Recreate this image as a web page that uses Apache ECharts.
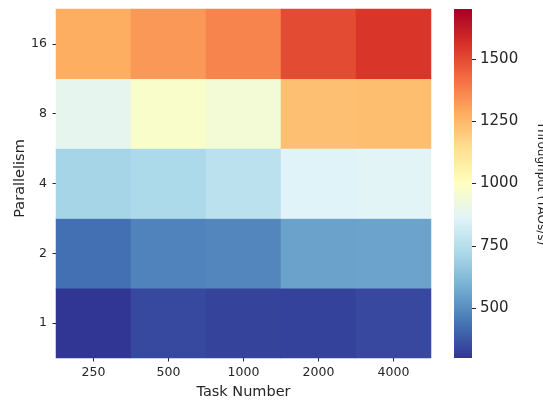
<!DOCTYPE html>
<html>
<head>
<meta charset="utf-8">
<script src="https://cdn.jsdelivr.net/npm/echarts@6/dist/echarts.min.js"></script>
<style>
html,body{margin:0;padding:0;background:#fff;}
#chart{width:543px;height:402px;}
</style>
</head>
<body>
<div id="chart"></div>
<script>
// ---- data ----
const taskNumbers = ['250', '500', '1000', '2000', '4000'];
const parallelism = ['1', '2', '4', '8', '16'];
// throughput (TAOs/s), one array per parallelism level, ordered by task number
const par1  = [300, 342, 328, 327, 341];
const par2  = [429, 472, 482, 552, 555];
const par4  = [707, 726, 765, 860, 867];
const par8  = [887, 972, 944, 1232, 1234];
const par16 = [1280, 1328, 1371, 1498, 1549];
const colorbarTicks = [500, 750, 1000, 1250, 1500];
const valueMin = 300;
const valueMax = 1700;
// RdYlBu_r colour map
const cmap = ['#313695','#4575b4','#74add1','#abd9e9','#e0f3f8','#ffffbf','#fee090','#fdae61','#f46d43','#d73027','#a50026'];

const rows = [par1, par2, par4, par8, par16];
const heatData = [];
rows.forEach((row, yi) => row.forEach((v, xi) => heatData.push([xi, yi, v])));

const font = 'DejaVu Sans';
const textColor = '#262626';

const chart = echarts.init(document.getElementById('chart'), null, {renderer: 'canvas'});
chart.setOption({
  animation: false,
  backgroundColor: '#ffffff',
  textStyle: {fontFamily: font},
  grid: [
    {left: 56, top: 9, width: 375, height: 349, outerBoundsMode: 'none'},
    {left: 454, top: 9, width: 18, height: 349, outerBoundsMode: 'none'}
  ],
  xAxis: [
    {
      type: 'category', gridIndex: 0, data: taskNumbers,
      name: 'Task Number', nameLocation: 'middle', nameGap: 27, nameMoveOverlap: false,
      nameTextStyle: {fontFamily: font, fontSize: 14.5, color: textColor},
      axisLine: {show: false},
      axisTick: {show: true, alignWithLabel: true, length: 3.5, lineStyle: {color: textColor, width: 1}},
      axisLabel: {fontFamily: font, fontSize: 12.5, color: textColor, margin: 8},
      splitLine: {show: false}
    },
    {type: 'category', gridIndex: 1, data: ['bar'], show: false}
  ],
  yAxis: [
    {
      type: 'category', gridIndex: 0, data: parallelism,
      name: 'Parallelism', nameLocation: 'middle', nameGap: 28, nameMoveOverlap: false,
      nameTextStyle: {fontFamily: font, fontSize: 14.5, color: textColor, padding: [0, 0, 0, 10]},
      axisLine: {show: false},
      axisTick: {show: true, alignWithLabel: true, length: 3.5, lineStyle: {color: textColor, width: 1}},
      axisLabel: {fontFamily: font, fontSize: 12.5, color: textColor, margin: 9},
      splitLine: {show: false}
    },
    {
      type: 'value', gridIndex: 1, min: valueMin, max: valueMax, position: 'right',
      name: 'Throughput (TAOs/s)', nameLocation: 'middle', nameRotate: -90, nameGap: 63, nameMoveOverlap: false,
      nameTextStyle: {fontFamily: font, fontSize: 12, color: textColor},
      axisLine: {show: false},
      axisTick: {show: true, length: 4, customValues: colorbarTicks, lineStyle: {color: textColor, width: 1}},
      axisLabel: {fontFamily: font, fontSize: 15, color: textColor, margin: 8, customValues: colorbarTicks,
        formatter: function (v) { return String(v); }},
      splitLine: {show: false}
    }
  ],
  visualMap: {
    type: 'continuous', show: false, min: valueMin, max: valueMax,
    seriesIndex: 0, dimension: 2,
    inRange: {color: cmap}
  },
  series: [
    {
      type: 'heatmap', xAxisIndex: 0, yAxisIndex: 0,
      data: heatData,
      itemStyle: {borderWidth: 0},
      emphasis: {disabled: true},
      silent: true
    },
    {
      type: 'custom', xAxisIndex: 1, yAxisIndex: 1,
      data: [[0, valueMin]],
      silent: true,
      renderItem: function (params, api) {
        const cs = params.coordSys;
        const top = api.coord([0, valueMax])[1];
        const bottom = api.coord([0, valueMin])[1];
        const stops = cmap.map((c, i) => ({offset: i / (cmap.length - 1), color: c}));
        return {
          type: 'rect',
          shape: {x: cs.x, y: top, width: cs.width, height: bottom - top},
          style: {fill: new echarts.graphic.LinearGradient(0, 1, 0, 0, stops)}
        };
      }
    }
  ]
});
</script>
</body>
</html>
